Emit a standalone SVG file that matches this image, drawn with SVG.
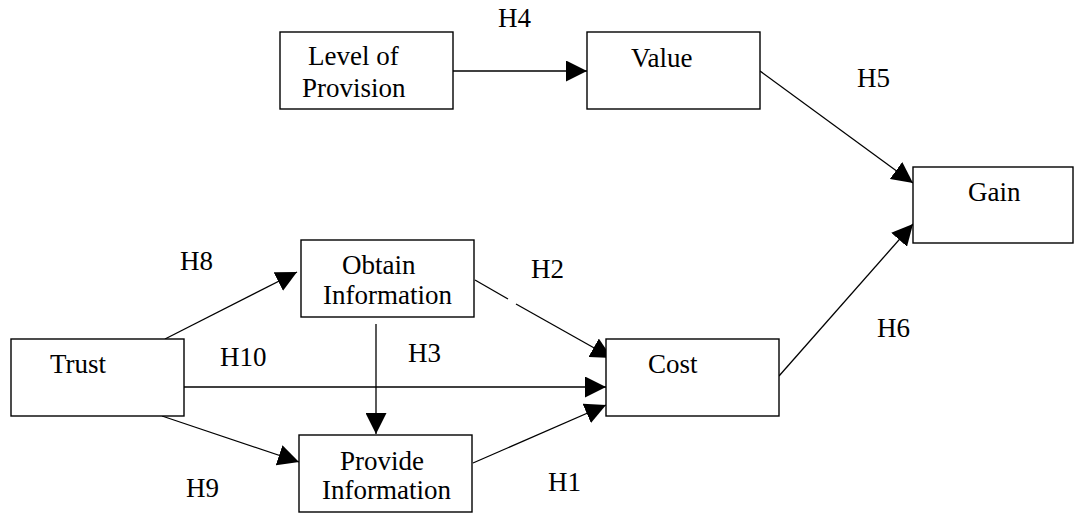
<svg xmlns="http://www.w3.org/2000/svg" width="1074" height="513" viewBox="0 0 1074 513">
<style>
.box{fill:#fff;stroke:#000;stroke-width:1.4}
text{font-family:'Liberation Serif','Times New Roman','DejaVu Serif',serif;font-size:27px;fill:#000}
.c{stroke:#000;stroke-width:1.3;fill:none;marker-end:url(#ah)}
.n{stroke:#000;stroke-width:1.3;fill:none}
</style>
<defs>
<marker id="ah" markerUnits="userSpaceOnUse" markerWidth="21" markerHeight="21" refX="21" refY="10.5" orient="auto" viewBox="0 0 21 21">
<path d="M0,0 L21,10.5 L0,21 z" fill="#000"/>
</marker>
</defs>
<rect width="1074" height="513" fill="#fff"/>
<g id="connectors">
<line class="c" x1="453" y1="71" x2="587" y2="71"/>
<line class="c" x1="760" y1="71" x2="913" y2="183"/>
<line class="c" x1="779" y1="376" x2="913" y2="224"/>
<line class="c" x1="165" y1="339" x2="297" y2="272"/>
<line class="c" x1="162" y1="416" x2="299" y2="462"/>
<line class="c" x1="184" y1="387" x2="606" y2="387"/>
<line class="c" x1="376" y1="324" x2="376" y2="434"/>
<line class="n" x1="475" y1="280" x2="508" y2="299"/>
<line class="c" x1="516" y1="304" x2="612" y2="358"/>
<line class="c" x1="473" y1="463" x2="606" y2="405"/>
</g>
<g id="level-of-provision">
<rect class="box" x="280" y="32" width="173" height="77"/>
<text x="308" y="65">Level of</text>
<text x="302" y="97">Provision</text>
</g>
<g id="value">
<rect class="box" x="587" y="32" width="173" height="77"/>
<text x="631" y="67">Value</text>
</g>
<g id="gain">
<rect class="box" x="913" y="167" width="160" height="76"/>
<text x="968" y="201">Gain</text>
</g>
<g id="obtain-information">
<rect class="box" x="301" y="240" width="173" height="77"/>
<text x="342" y="274">Obtain</text>
<text x="323" y="304">Information</text>
</g>
<g id="trust">
<rect class="box" x="11" y="339" width="173" height="77"/>
<text x="50" y="373">Trust</text>
</g>
<g id="cost">
<rect class="box" x="606" y="339" width="173" height="77"/>
<text x="648" y="373">Cost</text>
</g>
<g id="provide-information">
<rect class="box" x="299" y="435" width="173" height="77"/>
<text x="340" y="470">Provide</text>
<text x="322" y="499">Information</text>
</g>
<g id="labels">
<text x="498" y="27">H4</text>
<text x="857" y="87">H5</text>
<text x="877" y="337">H6</text>
<text x="180" y="270">H8</text>
<text x="220" y="366">H10</text>
<text x="186" y="497">H9</text>
<text x="531" y="278">H2</text>
<text x="408" y="362">H3</text>
<text x="548" y="491">H1</text>
</g>
</svg>
